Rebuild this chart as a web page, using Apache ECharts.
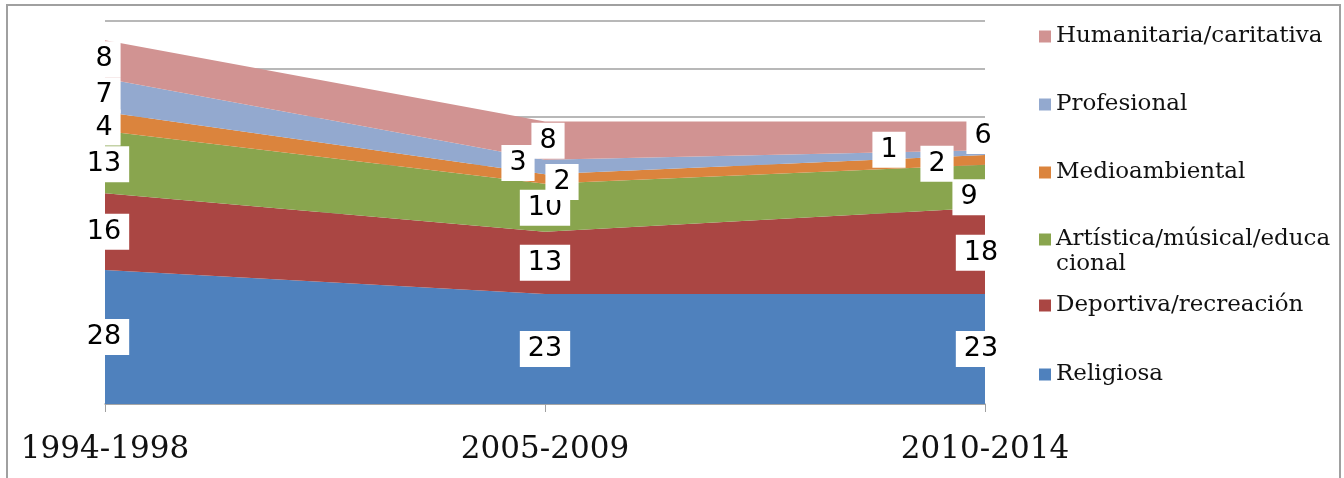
<!DOCTYPE html>
<html>
<head>
<meta charset="utf-8">
<script src="https://cdn.jsdelivr.net/npm/echarts@6/dist/echarts.min.js"></script>
<style>
  html, body { margin: 0; padding: 0; background: #fff; }
  #chart { width: 1344px; height: 478px; }
</style>
</head>
<body>
<div id="chart"></div>
<script>
  // datos
  var periods = ['1994-1998', '2005-2009', '2010-2014'];
  var religiosa = [28, 23, 23];
  var deportiva = [16, 13, 18];
  var artistica = [13, 10, 9];
  var medioambiental = [4, 2, 2];
  var profesional = [7, 3, 1];
  var humanitaria = [8, 8, 6];
  var names = ['Religiosa', 'Deportiva/recreación', 'Artística/músical/educacional',
    'Medioambiental', 'Profesional', 'Humanitaria/caritativa'];

  var colors = ['#4F81BD', '#AA4643', '#89A54E', '#DB843D', '#93A9CF', '#D19392'];
  var stacks = [religiosa, deportiva, artistica, medioambiental, profesional, humanitaria];

  // desplazamiento de etiquetas (px) [serie][periodo]
  var labelOffsets = [
    [[-1, 0], [0, 0], [-4, 0]],
    [[-1, 0], [0, 0], [-4, 2]],
    [[-1, 2], [0, 0], [-16, 11]],
    [[-1, 6], [17, 3], [-48, 4]],
    [[-1, 0], [-27, -4], [-96, -3]],
    [[-1, 0], [3, 0], [-2, 0]]
  ];

  var labelData = [];
  periods.forEach(function (p, j) {
    var base = 0;
    stacks.forEach(function (arr, i) {
      labelData.push({
        value: [j, base + arr[j] / 2],
        raw: arr[j],
        label: { offset: labelOffsets[i][j] }
      });
      base += arr[j];
    });
  });

  var series = stacks.map(function (arr, i) {
    return {
      name: names[i],
      type: 'line',
      stack: 'total',
      data: arr,
      symbol: 'none',
      lineStyle: { width: 0 },
      areaStyle: { color: colors[i], opacity: 1 },
      itemStyle: { color: colors[i] },
      emphasis: { disabled: true },
      silent: true,
      z: 2
    };
  });

  series.push({
    name: 'etiquetas',
    type: 'scatter',
    data: labelData,
    symbolSize: 1,
    itemStyle: { color: 'rgba(0,0,0,0)', opacity: 1 },
    emphasis: { disabled: true },
    silent: true,
    z: 5,
    label: {
      show: true,
      position: 'inside',
      formatter: function (p) { return p.data.raw; },
      fontFamily: 'DejaVu Sans',
      fontSize: 27,
      color: '#000',
      opacity: 1,
      backgroundColor: '#fff',
      padding: [5, 8, 4, 8]
    }
  });

  var legendText = {
    fontFamily: 'DejaVu Serif',
    fontSize: 23,
    color: '#111',
    lineHeight: 25
  };

  var chart = echarts.init(document.getElementById('chart'));
  var option = {
    animation: false,
    color: colors,
    grid: { left: 105, right: 359, top: 21, bottom: 74 },
    graphic: [{
      type: 'rect',
      shape: { x: 7, y: 5, width: 1333, height: 500 },
      style: { fill: 'none', stroke: '#a0a0a0', lineWidth: 2 },
      z: -1
    }],
    legend: [
      {
        orient: 'vertical', left: 1034, top: 19, itemGap: 43,
        itemWidth: 12, itemHeight: 12, icon: 'rect',
        data: [names[5], names[4], names[3]],
        textStyle: legendText
      },
      {
        orient: 'vertical', left: 1034, top: 197,
        itemWidth: 12, itemHeight: 12, icon: 'rect',
        data: [names[2]],
        formatter: function () { return '\nArtística/músical/educa\ncional'; },
        textStyle: legendText
      },
      {
        orient: 'vertical', left: 1034, top: 288, itemGap: 44,
        itemWidth: 12, itemHeight: 12, icon: 'rect',
        data: [names[1], names[0]],
        textStyle: legendText
      }
    ],
    xAxis: {
      type: 'category',
      data: periods,
      boundaryGap: false,
      axisLine: { lineStyle: { color: '#a0a0a0', width: 1.5 } },
      axisTick: { show: true, length: 8, lineStyle: { color: '#a0a0a0' } },
      axisLabel: {
        fontFamily: 'DejaVu Serif',
        fontSize: 31,
        color: '#111',
        margin: 30
      }
    },
    yAxis: {
      type: 'value',
      min: 0,
      max: 80,
      interval: 10,
      axisLine: { show: false },
      axisTick: { show: false },
      axisLabel: { show: false },
      splitLine: { lineStyle: { color: '#a0a0a0', width: 1.5 } }
    },
    series: series
  };
  chart.setOption(option);
</script>
</body>
</html>
